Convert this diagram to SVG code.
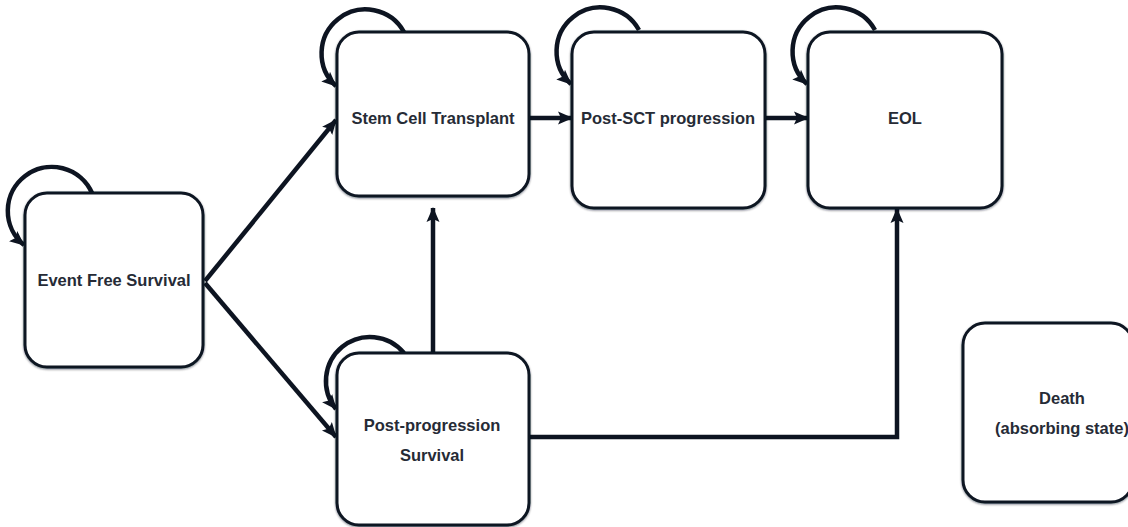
<svg xmlns="http://www.w3.org/2000/svg" width="1128" height="527" viewBox="0 0 1128 527">
<defs>
<marker id="ah" markerUnits="userSpaceOnUse" markerWidth="15" markerHeight="15" viewBox="0 0 15 15" refX="14" refY="7.5" orient="auto">
<path d="M0,1 L15,7.5 L0,14 L3,7.5 Z" fill="#0d1421"/>
</marker>
<filter id="sh" x="-10%" y="-10%" width="120%" height="120%">
<feGaussianBlur in="SourceAlpha" stdDeviation="1.2"/>
<feOffset dx="0" dy="1" result="b"/>
<feFlood flood-color="#0d1421" flood-opacity="0.5"/>
<feComposite in2="b" operator="in"/>
<feMerge><feMergeNode/><feMergeNode in="SourceGraphic"/></feMerge>
</filter>
</defs>
<style>
.box{fill:#ffffff;stroke:#0d1421;stroke-width:3;filter:url(#sh)}
.t{font-family:"Liberation Sans",Arial,sans-serif;font-weight:bold;font-size:16.5px;fill:#262b36;text-anchor:middle;dominant-baseline:central}
.c{fill:none;stroke:#0d1421;stroke-width:4.5;marker-end:url(#ah)}
</style>
<rect width="1128" height="527" fill="#ffffff"/>
<g id="connectors">
<path class="c" d="M205,281 L336,120"/>
<path class="c" d="M205,283 L336,437"/>
<path class="c" d="M529,118 L572,118"/>
<path class="c" d="M765,118 L808,118"/>
<path class="c" d="M433,353 L433,208"/>
<path class="c" d="M529,437 L897,437 L897,209"/>
<path class="c" d="M92,193 A44,44 0 1 0 24,245"/>
<path class="c" d="M404,32 A44,44 0 1 0 336,86"/>
<path class="c" d="M639,30 A44,44 0 1 0 571,84"/>
<path class="c" d="M875,30 A44,44 0 1 0 807,84"/>
<path class="c" d="M404,353 A44,44 0 1 0 336,409"/>
</g>
<g id="efs"><rect class="box" x="25" y="193" width="178" height="174" rx="22"/><text class="t" x="114" y="280">Event Free Survival</text></g>
<g id="sct"><rect class="box" x="337" y="32" width="192" height="164" rx="22"/><text class="t" x="433" y="118">Stem Cell Transplant</text></g>
<g id="postsct"><rect class="box" x="572" y="32" width="193" height="176" rx="22"/><text class="t" x="668" y="118">Post-SCT progression</text></g>
<g id="eol"><rect class="box" x="808" y="32" width="194" height="176" rx="22"/><text class="t" x="905" y="118">EOL</text></g>
<g id="pps"><rect class="box" x="337" y="353" width="192" height="172" rx="22"/><text class="t" x="432" y="425">Post-progression</text><text class="t" x="432" y="455">Survival</text></g>
<g id="death"><rect class="box" x="963" y="323" width="170" height="179" rx="22"/><text class="t" x="1062" y="398">Death</text><text class="t" x="1062" y="428">(absorbing state)</text></g>
</svg>
